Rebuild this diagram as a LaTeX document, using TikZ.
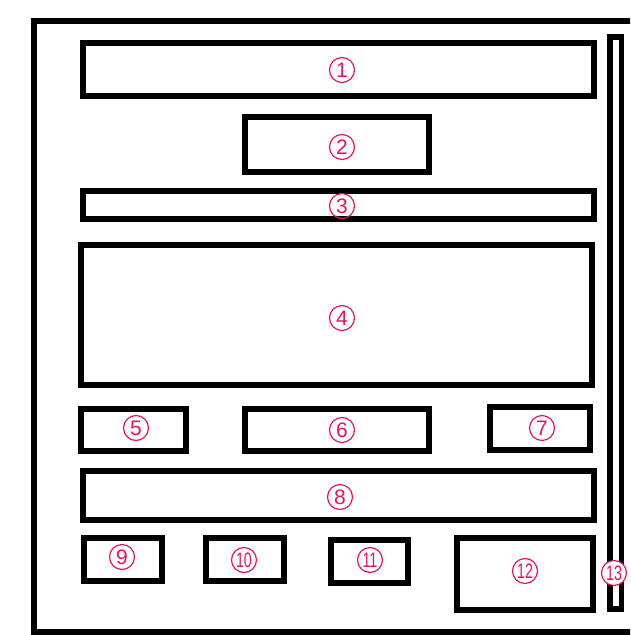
\documentclass[tikz,border=0pt]{standalone}
\usepackage{fontspec}
\setsansfont{Liberation Sans}
\usepackage{xcolor}
\definecolor{nummerrood}{RGB}{232,22,88}
\tikzset{
  vak/.style={draw, line width=5.5pt, inner sep=0pt, outer sep=0pt},
  nummer/.style={circle, draw=nummerrood, text=nummerrood, line width=1.2pt,
    minimum size=25pt, inner sep=0pt, font=\sffamily\fontsize{21}{21}\selectfont},
}
\newcommand{\tweecijfers}[1]{\scalebox{0.68}[1]{#1}}

\begin{document}
\begin{tikzpicture}[x=1pt,y=-1pt]
  \useasboundingbox (0,0) rectangle (630,635);
  \clip (0,0) rectangle (630,635);
  % buitenkader, rechterkant valt buiten beeld
  \draw[line width=6pt] (34,21) rectangle (660,632);
  % bovenste blokken
  \node[vak, minimum width=511pt, minimum height=53pt] (vak1) at (338.5,69.5) {};
  \node[vak, minimum width=184pt, minimum height=55pt] (vak2) at (337,144.5) {};
  \node[vak, minimum width=511pt, minimum height=28pt] (vak3) at (338.5,205) {};
  \node[vak, minimum width=511pt, minimum height=140pt] (vak4) at (336.5,315) {};
  % middelste rij
  \node[vak, minimum width=105pt, minimum height=42pt] (vak5) at (133.5,430) {};
  \node[vak, minimum width=184pt, minimum height=42pt] (vak6) at (337,430) {};
  \node[vak, minimum width=100pt, minimum height=43pt] (vak7) at (540,428.5) {};
  \node[vak, minimum width=511pt, minimum height=49pt] (vak8) at (338.5,495.5) {};
  % onderste rij
  \node[vak, minimum width=78pt, minimum height=43pt] (vak9) at (123,559.5) {};
  \node[vak, minimum width=78pt, minimum height=43pt] (vak10) at (245,559.5) {};
  \node[vak, minimum width=77pt, minimum height=43pt] (vak11) at (369.5,561.5) {};
  \node[vak, minimum width=136pt, minimum height=72pt] (vak12) at (525,574) {};
  % smalle balk rechts
  \node[vak, minimum width=11.5pt, minimum height=572pt] (vak13) at (615.75,323) {};
  % nummers
  \node[nummer] (nr1) at (342,70) {1};
  \node[nummer] (nr2) at (342,147) {2};
  \node[nummer] (nr3) at (342,206) {3};
  \node[nummer] (nr4) at (342,318) {4};
  \node[nummer] (nr5) at (136,428) {5};
  \node[nummer] (nr6) at (342,430) {6};
  \node[nummer] (nr7) at (542,428) {7};
  \node[nummer] (nr8) at (340,497) {8};
  \node[nummer] (nr9) at (122,557) {9};
  \node[nummer] (nr10) at (244,560) {\tweecijfers{10}};
  \node[nummer] (nr11) at (370,560) {\tweecijfers{11}};
  \node[nummer] (nr12) at (525,571) {\tweecijfers{12}};
  \node[nummer, fill=white] (nr13) at (614,573) {\tweecijfers{13}};
\end{tikzpicture}
\end{document}
